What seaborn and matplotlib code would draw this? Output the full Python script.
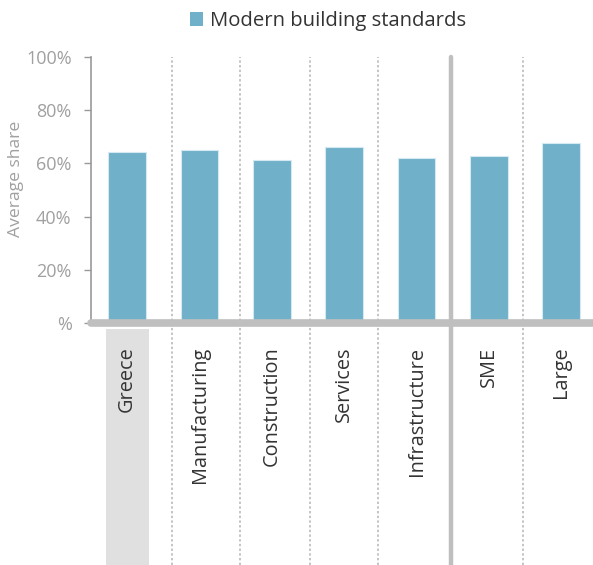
import numpy as np
import pandas as pd
import matplotlib
matplotlib.use("Agg")
import matplotlib.pyplot as plt
import matplotlib.transforms as mtransforms
from matplotlib.patches import Rectangle, Patch
import seaborn as sns

# data
categories = ["Greece", "Manufacturing", "Construction", "Services",
              "Infrastructure", "SME", "Large"]
shares = [64.4, 64.9, 61.2, 66.0, 62.0, 62.9, 67.7]
series_name = "Modern building standards"
y_ticks = [0, 20, 40, 60, 80, 100]
y_tick_labels = ["%", "20%", "40%", "60%", "80%", "100%"]

df = pd.DataFrame({"category": categories, "share": shares})

sns.set_theme(style="white")
plt.rcParams["font.family"] = ["Open Sans", "DejaVu Sans"]

BAR = "#70b0c8"
GREY = "#bfbfbf"
TXT = "#333333"
MUTED = "#a0a0a0"

fig = plt.figure(figsize=(5.93, 5.65), dpi=100)
W, H = 593, 565
ax = fig.add_axes([91 / W, (H - 323) / H, (W - 91) / W, 266 / H])

sns.barplot(data=df, x="category", y="share", color=BAR, width=0.525,
            edgecolor="#d4e9f1", linewidth=0.8, saturation=1, ax=ax)

ax.set_xlim(-0.5, 6.44)
ax.set_ylim(0, 100)
ax.set_yticks(y_ticks)
ax.set_yticklabels(y_tick_labels)
ax.tick_params(axis="y", length=5, width=1, color="#999999", pad=9,
               labelsize=13, labelcolor=MUTED, left=True)
ax.tick_params(axis="x", length=0, pad=17, labelsize=14.3, labelcolor=TXT)
for lab in ax.get_xticklabels():
    lab.set_rotation(90)
    lab.set_va("top")
    lab.set_ha("center")

for side in ["top", "right", "bottom"]:
    ax.spines[side].set_visible(False)
ax.spines["left"].set_color("#999999")
ax.spines["left"].set_linewidth(1.2)

ax.set_xlabel("")
ax.set_ylabel("Average share", fontsize=12.6, color=MUTED)
ax.yaxis.set_label_coords(-0.149, 0.54)
ax.yaxis.label.set_verticalalignment("center")

# thick base line
ax.axhline(0, color=GREY, lw=5.5, zorder=5, clip_on=False)

# separators between categories
bottom = -(H - 323) / 266
for xpos in [0.62, 1.56, 2.53, 3.47, 5.475]:
    ax.axvline(xpos, ymin=bottom, ymax=1, color=GREY, lw=1.3,
               linestyle=(0, (1.3, 1.3)), clip_on=False, zorder=1)
ax.axvline(4.48, ymin=bottom, ymax=1, color=GREY, lw=3.2,
           clip_on=False, zorder=6)

# shaded box behind the Greece label
trans = mtransforms.blended_transform_factory(ax.transData, ax.transAxes)
top_box = -6 / 266
ax.add_patch(Rectangle((0 - 0.29, bottom), 0.595, top_box - bottom,
                       transform=trans, facecolor="#e0e0e0",
                       edgecolor="none", clip_on=False, zorder=0))

fig.legend(handles=[Patch(facecolor=BAR, edgecolor="none", label=series_name)],
           loc="center", bbox_to_anchor=(0.553, 1 - 21 / H), frameon=False,
           fontsize=14.6, handlelength=0.65, handleheight=0.65,
           handletextpad=0.35, labelcolor=TXT)

fig.savefig("out.png", dpi=100)
